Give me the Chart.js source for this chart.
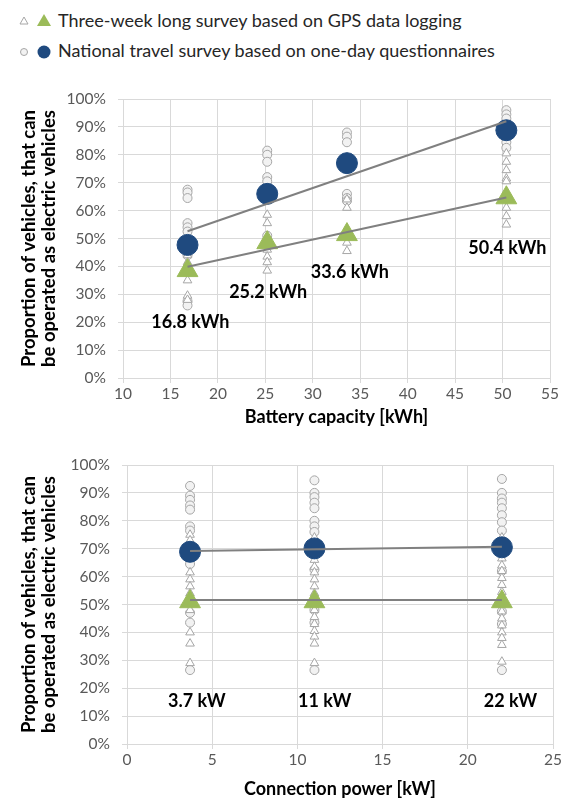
<!DOCTYPE html>
<html>
<head>
<meta charset="utf-8">
<script src="https://cdn.jsdelivr.net/npm/chart.js@4/dist/chart.umd.min.js"></script>
<style>
  body { margin: 0; background: #fff; width: 566px; height: 805px; position: relative; overflow: hidden; font-family: Lato, sans-serif; }
  .legend { position: absolute; left: 0; top: 0; width: 566px; }
  .row { position: absolute; left: 0; height: 30px; width: 566px; }
  .row svg { position: absolute; left: 14px; top: 0; }
  .row span { position: absolute; left: 58px; font-size: 18px; color: #262626; white-space: nowrap; }
  .chartbox { position: absolute; left: 0; width: 566px; height: 365px; }
</style>
</head>
<body>
<div class="legend">
  <div class="row" style="top:7px">
    <svg width="44" height="30"><polygon points="10,10 14,17 6,17" fill="#fff" stroke="#a6a6a6"/><polygon points="30,7 37,19 23,19" fill="#9bbb59"/></svg>
    <span style="top:2px">Three-week long survey based on GPS data logging</span>
  </div>
  <div class="row" style="top:37px">
    <svg width="44" height="30"><circle cx="10" cy="15" r="3.5" fill="#f2f2f2" stroke="#a6a6a6"/><circle cx="30" cy="15" r="6.5" fill="#1f4a7f"/></svg>
    <span style="top:2px">National travel survey based on one-day questionnaires</span>
  </div>
</div>
<div class="chartbox" style="top:70px"><canvas id="battery" width="566" height="365"></canvas></div>
<div class="chartbox" style="top:440px"><canvas id="power" width="566" height="365"></canvas></div>
<script>
// --- top chart: battery capacity ---
const batteryCapacity = [16.8, 25.2, 33.6, 50.4]
const batteryLabels = ['16.8 kWh', '25.2 kWh', '33.6 kWh', '50.4 kWh']
const batteryQuestMean = [47.7, 66.0, 77.0, 88.8]
const batteryGpsMean = [38.5, 48.5, 51.4, 64.6]
const batteryQuestSamples = [
  [67.5, 66.5, 64.5, 55.5, 54.0, 52.5, 45.5, 44.0, 27.5, 26.0],
  [81.5, 80.0, 77.5, 72.0, 70.5, 51.0, 49.5],
  [88.0, 86.5, 84.5, 79.0, 66.0, 64.5, 63.5],
  [96.0, 94.5, 93.0, 84.5, 82.5]
]
const batteryGpsSamples = [
  [49.5, 44.0, 41.5, 35.0, 29.5, 28.0],
  [58.5, 55.5, 46.0, 43.5, 41.5, 38.5],
  [64.0, 61.0, 48.5, 45.5],
  [80.5, 77.5, 74.5, 71.5, 70.5, 61.0, 58.0, 55.0]
]
const batteryTrendX = [16.8, 50.4]
const batteryQuestTrend = [52.6, 92.0]
const batteryGpsTrend = [39.9, 64.7]

// --- bottom chart: connection power ---
const connectionPower = [3.7, 11, 22]
const powerLabels = ['3.7 kW', '11 kW', '22 kW']
const powerQuestMean = [68.9, 70.1, 70.5]
const powerGpsMean = [51.0, 51.0, 51.0]
const powerQuestSamples = [
  [92.5, 89.0, 87.5, 85.5, 84.0, 78.0, 76.5, 64.5, 47.0, 43.5, 26.5],
  [94.5, 90.0, 88.5, 86.5, 84.5, 80.0, 78.0, 76.0, 62.5, 48.0, 43.5, 26.5],
  [95.0, 90.0, 88.0, 86.5, 84.5, 82.0, 79.5, 76.5, 62.0, 47.5, 43.0, 26.5]
]
const powerGpsSamples = [
  [75.0, 73.0, 61.5, 59.0, 56.5, 54.0, 48.0, 40.0, 36.0, 29.0],
  [74.0, 66.0, 63.5, 61.5, 59.0, 56.5, 54.0, 48.0, 45.5, 43.0, 40.5, 38.5, 36.0, 29.0],
  [74.0, 66.5, 64.0, 62.0, 59.5, 57.0, 54.5, 47.5, 45.0, 42.5, 40.0, 38.0, 35.5, 29.5]
]
const powerTrendX = [3.7, 22]
const powerQuestTrend = [69.2, 70.7]
const powerGpsTrend = [51.6, 51.6]

const Y_TITLE = ['Proportion of vehicles, that can', 'be operated as electric vehicles']
const GRID = '#d9d9d9'
const TICK = '#595959'

const spread = (xs, samples) => xs.flatMap((x, i) => samples[i].map(y => ({x, y})))
const pairs = (xs, ys) => xs.map((x, i) => ({x, y: ys[i]}))

// bold kWh / kW labels next to each group
const groupLabels = {
  id: 'groupLabels',
  afterDatasetsDraw(chart, args, opts) {
    const {ctx, scales: {x, y}} = chart
    ctx.save()
    ctx.font = 'bold 18px Lato'
    ctx.fillStyle = '#000'
    ctx.textAlign = 'center'
    ctx.textBaseline = 'middle'
    opts.text.forEach((t, i) => {
      ctx.fillText(t, x.getPixelForValue(opts.at[i][0]), y.getPixelForValue(opts.at[i][1]))
    })
    ctx.restore()
  }
}

function makeChart(id, cfg) {
  return new Chart(document.getElementById(id), {
    type: 'scatter',
    data: {
      datasets: [
        {data: pairs(cfg.trendX, cfg.questTrend), showLine: true, borderColor: '#808080', borderWidth: 2, pointRadius: 0, order: 0},
        {data: pairs(cfg.trendX, cfg.gpsTrend), showLine: true, borderColor: '#808080', borderWidth: 2, pointRadius: 0, order: 0},
        {data: pairs(cfg.xs, cfg.questMean), pointStyle: 'circle', pointRadius: 10.5, backgroundColor: '#1f4a7f', borderColor: '#1f4a7f', order: 1},
        {data: pairs(cfg.xs, cfg.gpsMean), pointStyle: 'triangle', pointRadius: 12, backgroundColor: '#9bbb59', borderColor: '#9bbb59', order: 1},
        {data: spread(cfg.xs, cfg.gpsSamples), pointStyle: 'triangle', pointRadius: 5, backgroundColor: '#fff', borderColor: '#a6a6a6', borderWidth: 1, order: 2},
        {data: spread(cfg.xs, cfg.questSamples), pointStyle: 'circle', pointRadius: 4.5, backgroundColor: '#f2f2f2', borderColor: '#a6a6a6', borderWidth: 1, order: 2}
      ]
    },
    options: {
      responsive: false,
      animation: false,
      events: [],
      layout: {padding: {top: cfg.padTop, right: cfg.padRight, left: 0, bottom: 0}},
      plugins: {
        legend: {display: false},
        tooltip: {enabled: false},
        groupLabels: {text: cfg.labels, at: cfg.labelAt}
      },
      scales: {
        x: {
          type: 'linear', min: cfg.xMin, max: cfg.xMax,
          ticks: {stepSize: 5, color: TICK, font: {family: 'Lato', size: 15.5}, padding: 2},
          grid: {color: GRID, tickLength: 5},
          border: {color: GRID},
          title: {display: true, text: cfg.xTitle, color: '#000', font: {family: 'Lato', size: 18, weight: 'bold'}, padding: {top: 0, bottom: cfg.xTitlePad}},
          afterFit: s => { s.height = cfg.xHeight }
        },
        y: {
          min: 0, max: 100,
          ticks: {stepSize: 10, color: TICK, font: {family: 'Lato', size: 15.5}, padding: 12, callback: v => v + '%'},
          grid: {color: GRID, tickLength: 5},
          border: {display: false},
          title: {display: true, text: Y_TITLE, color: '#000', font: {family: 'Lato', size: 18.5, weight: 'bold', lineHeight: 1.1}, padding: {top: 19, bottom: 0}},
          afterFit: s => { s.width = cfg.yWidth }
        }
      }
    },
    plugins: [groupLabels]
  })
}

makeChart('battery', {
  xs: batteryCapacity, questMean: batteryQuestMean, gpsMean: batteryGpsMean,
  questSamples: batteryQuestSamples, gpsSamples: batteryGpsSamples,
  trendX: batteryTrendX, questTrend: batteryQuestTrend, gpsTrend: batteryGpsTrend,
  labels: batteryLabels, labelAt: [[17.1, 20.1], [25.3, 30.6], [33.9, 37.8], [50.5, 46.4]],
  xMin: 10, xMax: 55, xTitle: 'Battery capacity [kWh]',
  padTop: 29, padRight: 16, yWidth: 123, xHeight: 57, xTitlePad: 7
})

makeChart('power', {
  xs: connectionPower, questMean: powerQuestMean, gpsMean: powerGpsMean,
  questSamples: powerQuestSamples, gpsSamples: powerGpsSamples,
  trendX: powerTrendX, questTrend: powerQuestTrend, gpsTrend: powerGpsTrend,
  labels: powerLabels, labelAt: [[4.1, 15.4], [11.6, 15.4], [22.5, 15.4]],
  xMin: 0, xMax: 25, xTitle: 'Connection power [kW]',
  padTop: 25, padRight: 12, yWidth: 127, xHeight: 61, xTitlePad: 5
})
</script>
</body>
</html>
